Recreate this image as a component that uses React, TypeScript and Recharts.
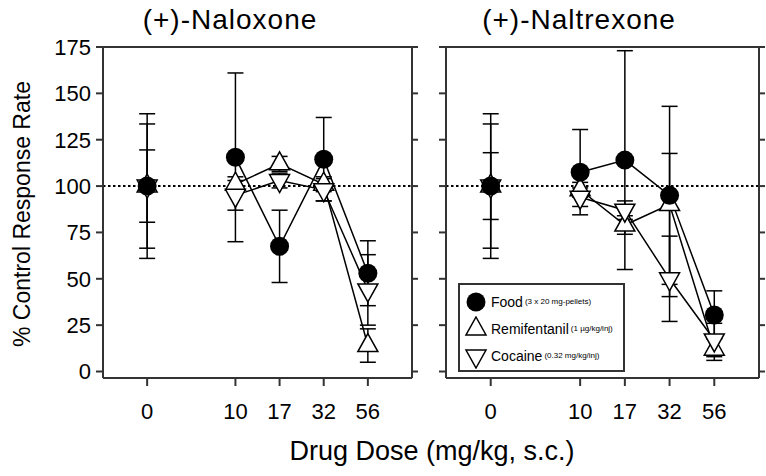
import React from 'react';
import { LineChart, Line, XAxis, YAxis, ErrorBar, ReferenceLine } from 'recharts';

// dose labels and their place on the axis (break between control and 10)
const doses = ['0', '10', '17', '32', '56'];
const dosePos = [0, 2, 3, 4, 5];
const yTicks = [0, 25, 50, 75, 100, 125, 150, 175];

// (+)-Naloxone panel
const naloxoneFood = [100, 115.5, 67.5, 114.5, 53];
const naloxoneFoodErr = [19.5, 45.5, 19.5, 22.5, 17.5];
const naloxoneRemi = [100, 101, 112, 101, 14];
const naloxoneRemiErr = [39, 4, 4, 4, 9];
const naloxoneCocaine = [100, 95, 103, 98, 44];
const naloxoneCocaineErr = [33.5, 8, 4, 6, 19];

// (+)-Naltrexone panel
const naltrexoneFood = [100, 107.5, 114, 95, 30.5];
const naltrexoneFoodErr = [18, 23, 59, 48, 13];
const naltrexoneRemi = [100, 98, 79, 90, 12];
const naltrexoneRemiErr: (number | number[])[] = [39, 4, 5, [49.6, 27.6], 6];
const naltrexoneCocaine = [100, 94, 87, 50, 17];
const naltrexoneCocaineErr = [33.5, 5, 5, 23, 9];

const buildRows = (
  food: number[], foodErr: any[],
  remi: number[], remiErr: any[],
  coc: number[], cocErr: any[]
) => {
  const rows = doses.map((d, i) => ({
    pos: dosePos[i],
    dose: d,
    food: food[i],
    foodErr: foodErr[i],
    remi: remi[i],
    remiErr: remiErr[i],
    cocaine: coc[i],
    cocaineErr: cocErr[i],
  }));
  // empty row so the lines stop at the axis break
  return [rows[0], { pos: 1 }, ...rows.slice(1)];
};

const naloxoneRows = buildRows(naloxoneFood, naloxoneFoodErr, naloxoneRemi, naloxoneRemiErr, naloxoneCocaine, naloxoneCocaineErr);
const naltrexoneRows = buildRows(naltrexoneFood, naltrexoneFoodErr, naltrexoneRemi, naltrexoneRemiErr, naltrexoneCocaine, naltrexoneCocaineErr);

const AXIS = '#333';

const triPath = (cx: number, cy: number, up: boolean) => {
  const s = 10;
  const h = 18;
  const tip = up ? cy - (h * 2) / 3 : cy + (h * 2) / 3;
  const base = up ? cy + h / 3 : cy - h / 3;
  return `M${cx},${tip}L${cx + s},${base}L${cx - s},${base}Z`;
};

const foodDot = (props: any) => {
  const { cx, cy, index } = props;
  if (cx == null || cy == null) return <g key={`f-${index}`} />;
  return <circle key={`f-${index}`} cx={cx} cy={cy} r={9.5} fill="#000" />;
};

const makeTriDot = (up: boolean) => (props: any) => {
  const { cx, cy, index } = props;
  const k = `${up ? 'u' : 'd'}-${index}`;
  if (cx == null || cy == null) return <g key={k} />;
  return <path key={k} d={triPath(cx, cy, up)} fill="#fff" stroke="#000" strokeWidth={1.5} />;
};

const fmtDose = (v: number) => {
  const i = dosePos.indexOf(v);
  return i >= 0 ? doses[i] : '';
};

const Panel = ({ rows, width, margin, showLabels }: any) => (
  <LineChart width={width} height={476} data={rows} margin={margin}>
    <XAxis
      dataKey="pos"
      type="number"
      domain={[-1, 6]}
      ticks={dosePos}
      tickFormatter={fmtDose}
      height={40}
      tickSize={8}
      tickMargin={17}
      stroke={AXIS}
      strokeWidth={2}
      tick={{ fontSize: 22, fill: '#000' }}
    />
    <XAxis xAxisId="top" orientation="top" dataKey="pos" type="number" domain={[-1, 6]} height={1} tick={false} tickLine={false} stroke={AXIS} strokeWidth={2} />
    <YAxis
      type="number"
      domain={[-3.5, 175]}
      ticks={yTicks}
      allowDataOverflow
      width={showLabels ? 60 : 10}
      tickSize={7}
      tickMargin={5}
      stroke={AXIS}
      strokeWidth={2}
      tickFormatter={showLabels ? undefined : () => ''}
      tick={{ fontSize: 22, fill: '#000' }}
    />
    <YAxis
      yAxisId="r"
      orientation="right"
      type="number"
      domain={[-3.5, 175]}
      ticks={yTicks}
      allowDataOverflow
      width={showLabels ? 10 : 5}
      tickSize={6}
      stroke={AXIS}
      strokeWidth={2}
      tickFormatter={() => ''}
    />
    <ReferenceLine y={100} stroke="#000" strokeWidth={2} strokeDasharray="2.5 2.5" />
    <Line dataKey="remi" stroke="#000" strokeWidth={1.5} dot={makeTriDot(true)} isAnimationActive={false}>
      <ErrorBar dataKey="remiErr" width={8} stroke="#000" strokeWidth={1.5} direction="y" />
    </Line>
    <Line dataKey="cocaine" stroke="#000" strokeWidth={1.5} dot={makeTriDot(false)} isAnimationActive={false}>
      <ErrorBar dataKey="cocaineErr" width={8} stroke="#000" strokeWidth={1.5} direction="y" />
    </Line>
    <Line dataKey="food" stroke="#000" strokeWidth={1.5} dot={foodDot} isAnimationActive={false}>
      <ErrorBar dataKey="foodErr" width={8} stroke="#000" strokeWidth={1.5} direction="y" />
    </Line>
  </LineChart>
);

const legendItems = [
  { name: 'Food', note: '(3 x 20 mg-pellets)', shape: 'circle' },
  { name: 'Remifentanil', note: '(1 µg/kg/inj)', shape: 'up' },
  { name: 'Cocaine', note: '(0.32 mg/kg/inj)', shape: 'down' },
];

const LegendBox = () => (
  <div
    style={{
      position: 'absolute', left: 458, top: 283, width: 167, height: 89,
      border: `2px solid ${AXIS}`, boxSizing: 'border-box', background: '#fff', paddingTop: 3,
    }}
  >
    {legendItems.map((it) => (
      <div key={it.name} style={{ display: 'flex', alignItems: 'center', height: 27 }}>
        <svg width={26} height={26} style={{ marginLeft: 3 }}>
          {it.shape === 'circle' ? (
            <circle cx={13} cy={13} r={9.5} fill="#000" />
          ) : (
            <path d={triPath(13, 13, it.shape === 'up')} fill="#fff" stroke="#000" strokeWidth={1.5} />
          )}
        </svg>
        <span style={{ fontSize: 14, marginLeft: 2 }}>{it.name}</span>
        <span style={{ fontSize: 8, marginLeft: 2 }}>{it.note}</span>
      </div>
    ))}
  </div>
);

export default function App() {
  return (
    <div
      style={{
        position: 'absolute', left: 0, top: 0, width: 766, height: 476, background: '#fff',
        fontFamily: '"Liberation Sans", Arial, sans-serif', color: '#000', overflow: 'hidden',
      }}
    >
      <div style={{ position: 'absolute', left: 0, top: 0 }}>
        <Panel rows={naloxoneRows} width={430} margin={{ top: 46, right: 8, bottom: 58, left: 43 }} showLabels />
      </div>
      <div style={{ position: 'absolute', left: 430, top: 0 }}>
        <Panel rows={naltrexoneRows} width={336} margin={{ top: 46, right: 2, bottom: 58, left: 6 }} showLabels={false} />
      </div>
      <div style={{ position: 'absolute', left: 80, top: 4, width: 300, textAlign: 'center', fontSize: 28, lineHeight: '32px', letterSpacing: 1 }}>
        (+)-Naloxone
      </div>
      <div style={{ position: 'absolute', left: 429, top: 4, width: 300, textAlign: 'center', fontSize: 28, lineHeight: '32px', letterSpacing: 1 }}>
        (+)-Naltrexone
      </div>
      <div
        style={{
          position: 'absolute', left: 22 - 160, top: 214 - 15, width: 320, height: 30,
          lineHeight: '30px', textAlign: 'center', fontSize: 23, transform: 'rotate(-90deg)',
        }}
      >
        % Control Response Rate
      </div>
      <div style={{ position: 'absolute', left: 232, top: 435, width: 400, textAlign: 'center', fontSize: 27, lineHeight: '32px' }}>
        Drug Dose (mg/kg, s.c.)
      </div>
      <LegendBox />
    </div>
  );
}
